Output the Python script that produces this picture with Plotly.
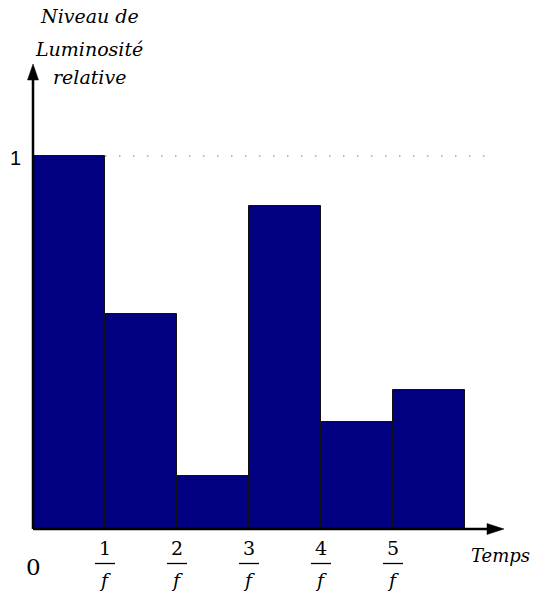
import plotly.graph_objects as go

# Data
slot_centers = [0.5, 1.5, 2.5, 3.5, 4.5, 5.5]
luminosity = [1.0, 0.576, 0.142, 0.866, 0.287, 0.373]
tick_positions = [1, 2, 3, 4, 5]
tick_numerators = ["1", "2", "3", "4", "5"]
tick_denominator = "f"
y_ref_value = 1.0

W, H = 536, 596
X0_PX, Y0_PX = 33, 529   # pixel position of the origin
SX, SY = 72.0, 373.0     # pixels per data unit

x_range = [-X0_PX / SX, (W - X0_PX) / SX]
y_range = [-(H - Y0_PX) / SY, Y0_PX / SY]

def dx(px):
    return (px - X0_PX) / SX

def dy(py):
    return (Y0_PX - py) / SY

def py_paper(py):
    return 1 - py / H

def px_paper(px):
    return px / W

serif = "DejaVu Serif"
sans = "Liberation Sans"

fig = go.Figure()
fig.add_trace(go.Bar(
    x=slot_centers, y=luminosity, width=1,
    marker=dict(color="#000080", line=dict(color="#111111", width=1)),
    hoverinfo="skip",
))

shapes = []
# dotted reference line at y = 1
shapes.append(dict(type="line", xref="x", yref="y", x0=1, x1=dx(486), y0=y_ref_value, y1=y_ref_value,
                   line=dict(color="#777777", width=1, dash="1.5px,12.5px"), layer="below"))
# axes lines
shapes.append(dict(type="line", xref="x", yref="y", x0=0, x1=dx(490), y0=0, y1=0,
                   line=dict(color="black", width=2.5)))
shapes.append(dict(type="line", xref="x", yref="y", x0=0, x1=0, y0=0, y1=dy(78),
                   line=dict(color="black", width=2.5)))
# arrowheads
shapes.append(dict(type="path", xref="x", yref="y",
                   path=f"M {dx(487)} {dy(Y0_PX-5.5)} L {dx(504)} 0 L {dx(487)} {dy(Y0_PX+5.5)} Z",
                   fillcolor="black", line=dict(color="black", width=0.5)))
shapes.append(dict(type="path", xref="x", yref="y",
                   path=f"M {dx(X0_PX-5.5)} {dy(80)} L 0 {dy(64)} L {dx(X0_PX+5.5)} {dy(80)} Z",
                   fillcolor="black", line=dict(color="black", width=0.5)))
# fraction bars
for t in tick_positions:
    shapes.append(dict(type="line", xref="x", yref="paper", x0=t - 10 / SX, x1=t + 10 / SX,
                       y0=py_paper(563.5), y1=py_paper(563.5), line=dict(color="black", width=1.3)))

annotations = []
for t, num in zip(tick_positions, tick_numerators):
    annotations.append(dict(x=t, y=py_paper(548), xref="x", yref="paper", text=num, showarrow=False,
                            font=dict(family=serif, size=19, color="black"), xanchor="center", yanchor="middle"))
    annotations.append(dict(x=t, y=py_paper(580), xref="x", yref="paper", text=f"<i>{tick_denominator}</i>",
                            showarrow=False, font=dict(family=serif, size=19, color="black"),
                            xanchor="center", yanchor="middle"))
annotations.append(dict(x=px_paper(33), y=py_paper(567), xref="paper", yref="paper", text="0", showarrow=False,
                        font=dict(family=serif, size=23, color="black"), xanchor="center", yanchor="middle"))
annotations.append(dict(x=px_paper(15), y=py_paper(158), xref="paper", yref="paper", text="1", showarrow=False,
                        font=dict(family=sans, size=20, color="black"), xanchor="center", yanchor="middle"))
annotations.append(dict(x=px_paper(500), y=py_paper(555), xref="paper", yref="paper", text="<i>Temps</i>",
                        showarrow=False, font=dict(family=serif, size=18, color="black"),
                        xanchor="center", yanchor="middle"))
for txt, cy in [("Niveau de", 16), ("Luminosité", 49), ("relative", 77)]:
    annotations.append(dict(x=px_paper(89), y=py_paper(cy), xref="paper", yref="paper", text=f"<i>{txt}</i>",
                            showarrow=False, font=dict(family=serif, size=19, color="black"),
                            xanchor="center", yanchor="middle"))

fig.update_layout(
    width=W, height=H,
    margin=dict(l=0, r=0, t=0, b=0),
    paper_bgcolor="white", plot_bgcolor="white",
    showlegend=False,
    font=dict(family=serif),
    xaxis=dict(range=x_range, visible=False, fixedrange=True),
    yaxis=dict(range=y_range, visible=False, fixedrange=True),
    shapes=shapes, annotations=annotations,
    bargap=0,
)

fig.write_html("out.html", config={"displayModeBar": False},
               post_script="document.body.style.margin='0';document.body.style.overflow='hidden';")
